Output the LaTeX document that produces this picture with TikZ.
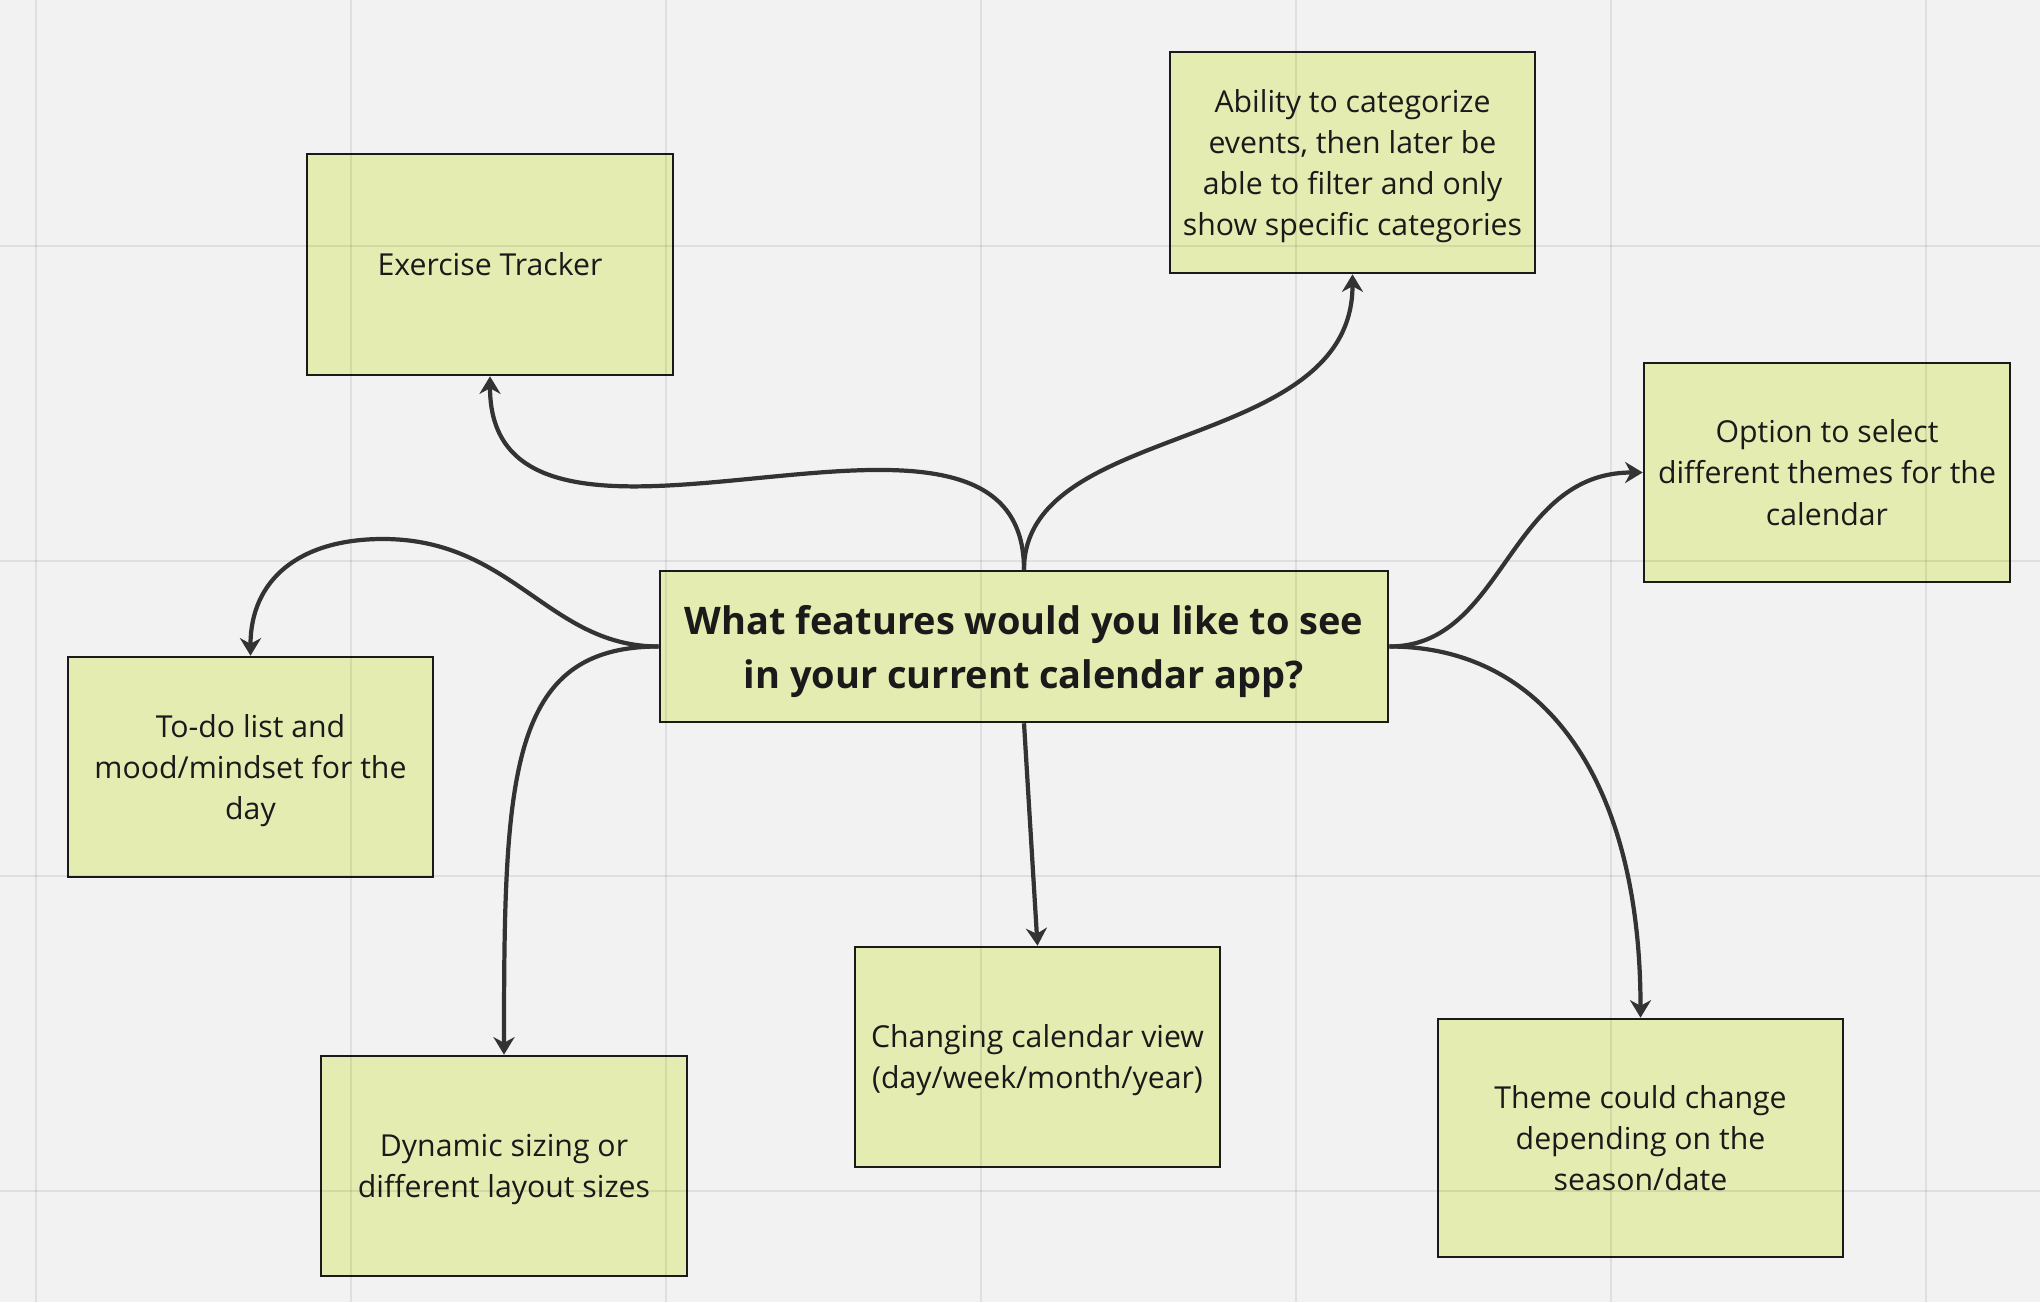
\documentclass[tikz,border=0pt]{standalone}
\usepackage{fontspec}
\setmainfont{Open Sans}
\usetikzlibrary{arrows.meta}
\definecolor{sticky}{HTML}{E5ECB1}
\definecolor{board}{HTML}{F2F2F2}
\definecolor{ink}{HTML}{1A1A1A}
\definecolor{wire}{HTML}{333333}
\newcommand{\linestrut}{\rule[-0.223\baselineskip]{0pt}{\baselineskip}}

\begin{document}
\begin{tikzpicture}[x=0.01cm,y=0.01cm,
    idea/.style={draw=ink,fill=sticky,line width=0.7pt,text=ink,align=flush center,inner sep=0pt,
      text width=3.55cm,font=\fontsize{8.6}{11.7}\selectfont,
      execute at begin node=\linestrut,execute at end node=\linestrut},
    link/.style={draw=wire,line width=1.2pt,-{Stealth[length=5pt,width=6pt,inset=1.6pt]}}]
  \useasboundingbox (0,0) rectangle (2040,1302);
  \fill[board] (0,0) rectangle (2040,1302);

  \node[idea,minimum width=7.28cm,minimum height=1.51cm,text width=7.1cm,
    font=\fontsize{10.8}{15.5}\selectfont\bfseries] (q) at (1024,655.5)
    {What features would you like to see\\in your current calendar app?};
  \node[idea,minimum width=3.66cm,minimum height=2.21cm] (exer) at (490,1037.5) {Exercise Tracker};
  \node[idea,minimum width=3.65cm,minimum height=2.21cm] (abil) at (1352.5,1139.5)
    {Ability to categorize\\events, then later be\\able to filter and only\\show specific categories};
  \node[idea,minimum width=3.66cm,minimum height=2.19cm] (opt) at (1827,829.5)
    {Option to select\\different themes for the\\calendar};
  \node[idea,minimum width=3.65cm,minimum height=2.20cm] (todo) at (250.5,535)
    {To-do list and\\mood/mindset for the\\day};
  \node[idea,minimum width=3.66cm,minimum height=2.20cm] (dyn) at (504,136)
    {Dynamic sizing or\\different layout sizes};
  \node[idea,minimum width=3.65cm,minimum height=2.20cm] (view) at (1037.5,245)
    {Changing calendar view\\(day/week/month/year)};
  \node[idea,minimum width=4.05cm,minimum height=2.38cm] (theme) at (1640.5,164)
    {Theme could change\\depending on the\\season/date};
  \coordinate (todobend) at (383,763);

  % board grid
  \foreach \gx in {36,351,...,1926}
    \draw[black,opacity=0.08,line width=0.5pt] (\gx,0) -- (\gx,1302);
  \foreach \gy in {111,426,741,1056}
    \draw[black,opacity=0.08,line width=0.5pt] (0,\gy) -- (2040,\gy);

  \draw[link] (q.north) .. controls +(0,235) and +(0,-245) .. (exer.south);
  \draw[link] (q.north) .. controls +(0,150) and +(0,-180) .. (abil.south);
  \draw[link] (q.east) .. controls +(115,0) and +(-135,0) .. (opt.west);
  \draw[link] (q.east) .. controls +(160,0) and +(0,230) .. (theme.north);
  \draw[link] (q.south) -- (view.north);
  \draw[link] (q.west) .. controls +(-110,0) and +(130,0) .. (todobend)
    .. controls +(-85,0) and +(0,75) .. (todo.north);
  \draw[link] (q.west) .. controls +(-150,0) and +(0,280) .. (dyn.north);
\end{tikzpicture}
\end{document}
